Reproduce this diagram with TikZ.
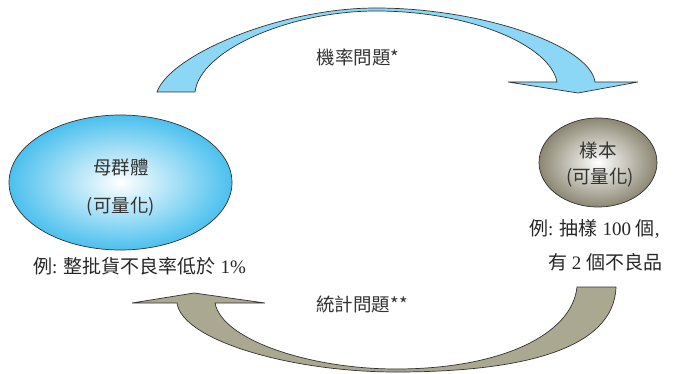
\documentclass[tikz,border=0pt]{standalone}
\usepackage{fontspec}
\setmainfont{Liberation Serif}
\newfontfamily\cjk{Noto Sans CJK TC}
\usetikzlibrary{shapes.geometric}
\definecolor{topblue}{RGB}{140,215,245}
\definecolor{botolive}{RGB}{170,168,145}
\definecolor{popblue}{RGB}{75,192,238}
\definecolor{samplegray}{RGB}{140,135,115}
\definecolor{edgegray}{RGB}{50,50,50}
\tikzset{
  blockarrow/.style={draw=edgegray, line width=0.7pt, line join=miter},
  bubble/.style={ellipse, draw=edgegray, line width=0.7pt, inner sep=0pt},
  inlabel/.style={font=\cjk\fontsize{18.5}{22}\selectfont, text=black!80, inner sep=0pt},
  exlabel/.style={font=\fontsize{19}{23}\selectfont, text=black!85, inner sep=0pt, anchor=west}
}
\begin{document}
\begin{tikzpicture}[x=1pt,y=-1pt]
\useasboundingbox (0,0) rectangle (688,374);
% top arrow (probability)
\draw[blockarrow, fill=topblue] (157,92) .. controls (170,55) and (280,8) .. (376,8)
  .. controls (480,8) and (590,45) .. (595,82)
  -- (638,82) -- (578,93) -- (508,82) -- (557,82)
  .. controls (550,45) and (470,11) .. (376,11)
  .. controls (290,11) and (200,50) .. (195,92) -- cycle;
% bottom arrow (statistics)
\draw[blockarrow, fill=botolive] (616,287) .. controls (614,350) and (520,372) .. (396,372)
  .. controls (290,372) and (182,340) .. (177,303)
  -- (132,303) -- (194,293) -- (265,303) -- (215,303)
  .. controls (222,340) and (310,369) .. (396,369)
  .. controls (500,369) and (572,335) .. (577,287) -- cycle;
% ellipses
\node[bubble, minimum width=223pt, minimum height=135pt, inner color=white, outer color=popblue] (pop) at (120.5,182.5) {};
\node[bubble, minimum width=118pt, minimum height=89pt, inner color=white, outer color=samplegray] (smp) at (598,162.5) {};
% labels
\node[inlabel] (popname) at (121,167) {母群體};
\node[inlabel] (popq) at (121,207) {(可量化)};
\node[inlabel] (smpname) at (598,150) {樣本};
\node[inlabel] (smpq) at (600,178) {(可量化)};
\node[inlabel] (prob) at (358,57) {機率問題*};
\node[inlabel] (stat) at (362,304) {統計問題**};
\node[exlabel] (popex) at (33,266) {{\cjk 例}: {\cjk 整批貨不良率低於} 1\%};
\node[exlabel] (smpex1) at (529,229) {{\cjk 例}: {\cjk 抽樣} 100 {\cjk 個},};
\node[exlabel] (smpex2) at (548,262) {{\cjk 有} 2 {\cjk 個不良品}};
\end{tikzpicture}
\end{document}
